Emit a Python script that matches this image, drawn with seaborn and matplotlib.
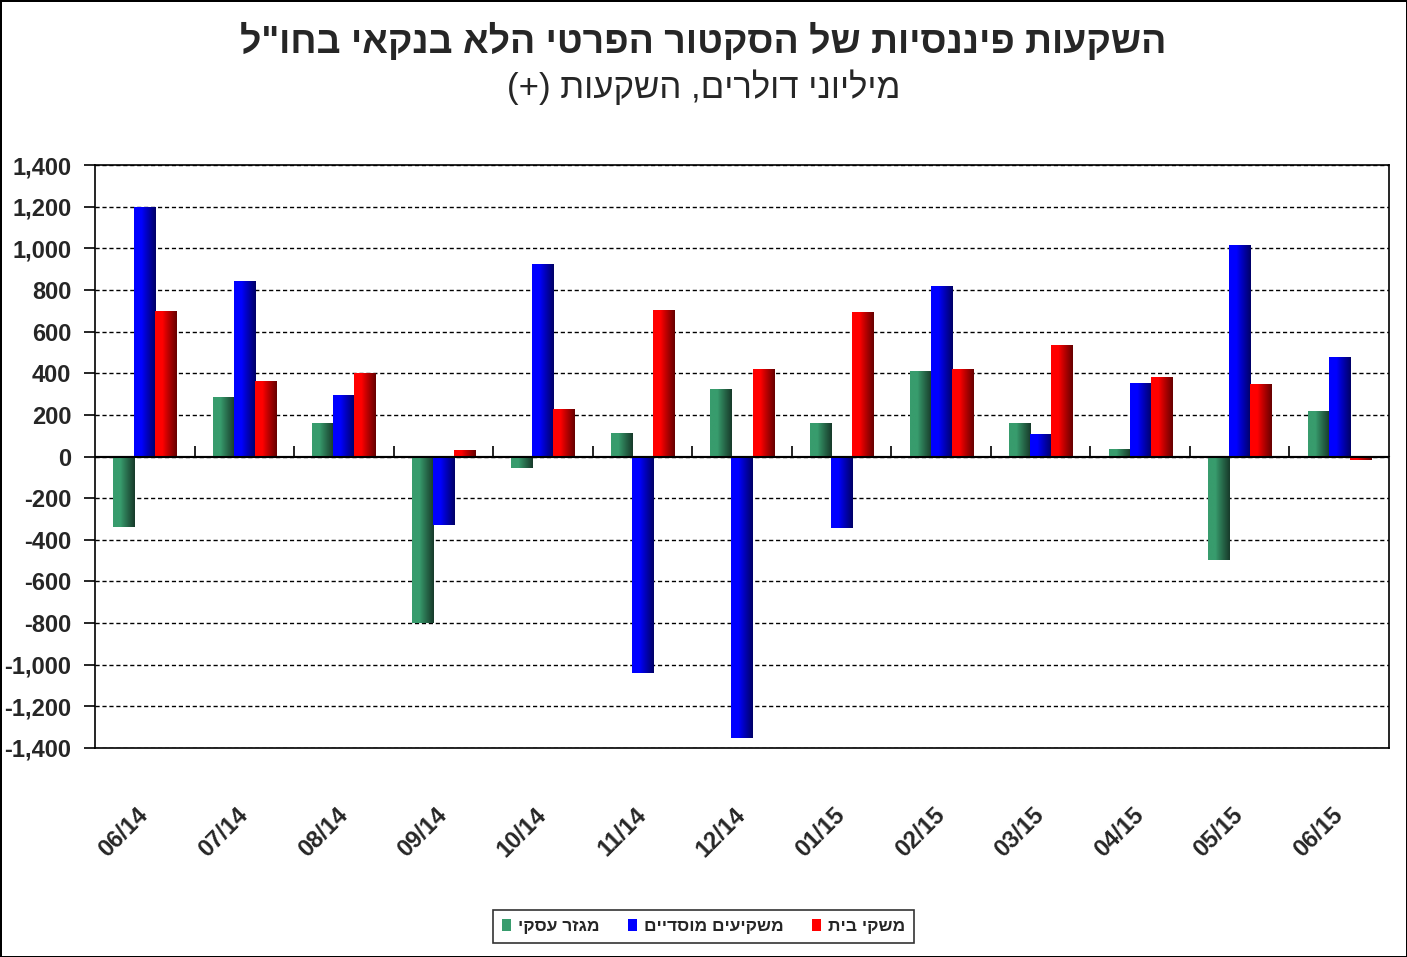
import numpy as np
import pandas as pd
import matplotlib
matplotlib.use('Agg')
import matplotlib.pyplot as plt
import seaborn as sns
from matplotlib.colors import to_rgb
from matplotlib.ticker import FuncFormatter, MultipleLocator, FixedLocator

sns.set_style('white')
plt.rcParams['font.family'] = ['Liberation Sans', 'DejaVu Sans']


def rtl(s):
    # matplotlib has no bidi support: reverse hebrew text and mirror brackets
    mirror = {'(': ')', ')': '('}
    return ''.join(mirror.get(c, c) for c in reversed(s))


months = ['06/14', '07/14', '08/14', '09/14', '10/14', '11/14', '12/14',
          '01/15', '02/15', '03/15', '04/15', '05/15', '06/15']
business = [-340, 285, 163, -800, -56, 115, 326, 163, 413, 163, 38, -497, 217]
institutional = [1200, 844, 297, -328, 926, -1040, -1350, -344, 821, 110, 355, 1017, 477]
households = [700, 364, 402, 29, 229, 705, 418, 696, 422, 534, 384, 347, -17]

series_names = ['מגזר עסקי', 'משקיעים מוסדיים', 'משקי בית']
title = 'השקעות פיננסיות של הסקטור הפרטי הלא בנקאי בחו"ל'
subtitle = 'מיליוני דולרים, השקעות (+)'

# light -> dark colours for the excel-like gradient
light = ['#389c6d', '#0000ff', '#ff0000']
dark = ['#173a2a', '#000066', '#660000']

labels = [rtl(n) for n in series_names]
df = pd.DataFrame({
    'month': months * 3,
    'value': business + institutional + households,
    'series': [labels[0]] * len(months) + [labels[1]] * len(months) + [labels[2]] * len(months),
})

fig = plt.figure(figsize=(14.07, 9.57), dpi=100, edgecolor='black', linewidth=2)
ax = fig.add_axes([95 / 1407, 1 - 748 / 957, (1389 - 95) / 1407, (748 - 165) / 957])

sns.barplot(data=df, x='month', y='value', hue='series', hue_order=labels,
            palette=light, width=0.633, saturation=1, ax=ax, legend=True,
            edgecolor='none', linewidth=0)

# gradient fill inside every bar: flat on the left, darkening to the right
xs = np.linspace(0, 1, 100)
ramp = np.clip((xs - 0.35) / 0.65, 0, 1) ** 0.9
for cont, c0, c1 in zip(ax.containers, light, dark):
    c0, c1 = np.array(to_rgb(c0)), np.array(to_rgb(c1))
    grad = (c0[None, :] * (1 - ramp[:, None]) + c1[None, :] * ramp[:, None])[None, :, :]
    for bar in cont:
        x, y = bar.get_x(), bar.get_y()
        w, h = bar.get_width(), bar.get_height()
        im = ax.imshow(grad, extent=[x, x + w, min(y, y + h), max(y, y + h)],
                       aspect='auto', zorder=3, interpolation='bilinear')
        im.set_clip_path(bar)

ax.set_ylim(-1400, 1400)
ax.set_xlim(-0.5, len(months) - 0.5)

# grid and frame
ax.yaxis.set_major_locator(MultipleLocator(200))
ax.yaxis.set_major_formatter(FuncFormatter(lambda v, p: f'{int(v):,}'))
ax.grid(axis='y', color='black', linestyle=(0, (3, 2)), linewidth=1, zorder=0)
ax.set_axisbelow(True)
for sp in ax.spines.values():
    sp.set_visible(True)
    sp.set_color('black')
    sp.set_linewidth(1.2)
    sp.set_zorder(6)
ax.axhline(0, color='black', linewidth=1.5, zorder=5)

ax.tick_params(axis='y', direction='out', length=8, width=1.2, color='black',
               labelsize=17, pad=9, left=True)
for t in ax.get_yticklabels():
    t.set_fontweight('bold')

ax.tick_params(axis='x', length=0, labelsize=17, pad=46)
ax.set_xticks(range(len(months)))
ax.set_xticklabels(months, rotation=45, ha='right', va='center',
                   rotation_mode='anchor', fontweight='bold')
ax.set_xlabel('')
ax.set_ylabel('')

# category axis ticks at zero line, between categories
sec = ax.secondary_xaxis(0.5)
sec.xaxis.set_major_locator(FixedLocator(np.arange(0.5, len(months) - 0.5, 1)))
sec.tick_params(axis='x', direction='out', length=7, width=1.2, color='black', labelbottom=False)
sec.spines['bottom'].set_visible(False)
sec.set_xticklabels([])

# legend
ax.get_legend().remove()
handles, lbls = ax.get_legend_handles_labels()
leg = fig.legend(handles[:3], lbls[:3], loc='center', bbox_to_anchor=(0.5, 1 - 926.5 / 957),
                 ncol=3, frameon=True, fancybox=False, edgecolor='black',
                 handlelength=0.55, handleheight=0.7, handletextpad=0.4, columnspacing=1.6,
                 borderpad=0.5, prop={'size': 12.5, 'weight': 'bold'})
leg.get_frame().set_linewidth(1.2)

fig.text(0.5, 1 - 42 / 957, rtl(title), ha='center', va='center',
         fontsize=27, fontweight='bold')
fig.text(0.5, 1 - 87 / 957, rtl(subtitle), ha='center', va='center', fontsize=25)

fig.savefig('out.png', dpi=100)
